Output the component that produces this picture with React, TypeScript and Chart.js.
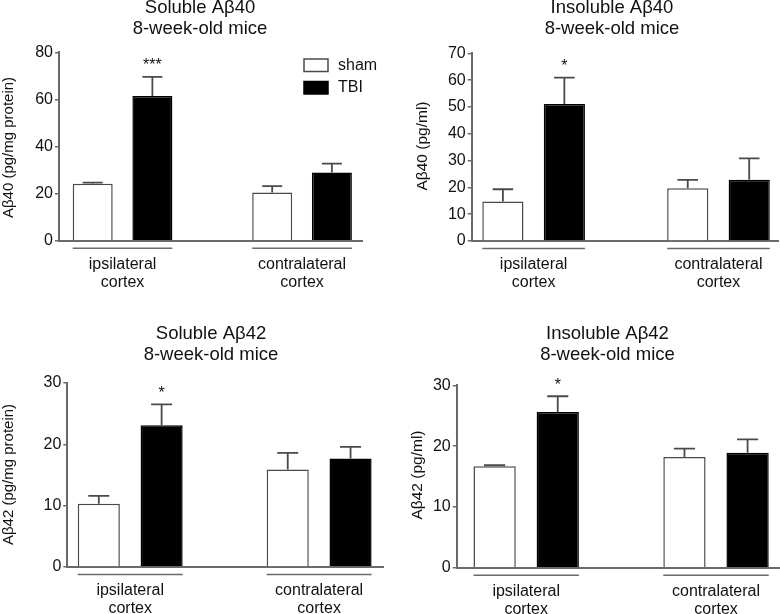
import React, { useEffect, useRef } from 'react';
import { Chart, registerables } from 'chart.js';

Chart.register(...registerables);

const FONT = '"Liberation Sans", Arial, Helvetica, sans-serif';

// ---- data ----
const regions = [['ipsilateral', 'cortex'], ['contralateral', 'cortex']];
const seriesNames = ['sham', 'TBI'];

// Soluble Aβ40 (pg/mg protein)
const sol40Sham = [24.2, 20.5];
const sol40ShamSem = [0.5, 2.7];
const sol40Tbi = [61.4, 29.0];
const sol40TbiSem = [8.2, 3.7];
const sol40Ticks = [0, 20, 40, 60, 80];

// Insoluble Aβ40 (pg/ml)
const insol40Sham = [14.7, 19.7];
const insol40ShamSem = [4.6, 3.1];
const insol40Tbi = [51.1, 22.8];
const insol40TbiSem = [9.8, 8.0];
const insol40Ticks = [0, 10, 20, 30, 40, 50, 60, 70];

// Soluble Aβ42 (pg/mg protein)
const sol42Sham = [10.3, 15.9];
const sol42ShamSem = [1.3, 2.7];
const sol42Tbi = [23.1, 17.7];
const sol42TbiSem = [3.4, 1.9];
const sol42Ticks = [0, 10, 20, 30];

// Insoluble Aβ42 (pg/ml)
const insol42Sham = [16.7, 18.2];
const insol42ShamSem = [0.15, 1.4];
const insol42Tbi = [25.6, 18.9];
const insol42TbiSem = [2.6, 2.2];
const insol42Ticks = [0, 10, 20, 30];

const AXIS = '#6a6a6a';
const EDGE = '#4a4a4a';
const TEXT = '#111111';

type Cfg = {
  px: number; py: number;
  area: { l: number; r: number; t: number; b: number };
  xMin: number; xMax: number;
  title: string[]; titleX: number; titleY: number[];
  yTitle: string; yTitleX: number; yTitleY: number; yTitleSize: number;
  ticks: number[];
  sham: number[]; shamErr: number[]; tbi: number[]; tbiErr: number[];
  star: string;
  legend?: { x: number; y: number };
};

const panels: Cfg[] = [
  {
    px: 0, py: 0,
    area: { l: 59, r: 362, t: 52.3, b: 240.7 },
    xMin: -0.354, xMax: 1.334,
    title: ['Soluble Aβ40', '8-week-old mice'], titleX: 200, titleY: [13.3, 34.3],
    yTitle: 'Aβ40 (pg/mg protein)', yTitleX: 9, yTitleY: 147.5, yTitleSize: 15,
    ticks: sol40Ticks,
    sham: sol40Sham, shamErr: sol40ShamSem, tbi: sol40Tbi, tbiErr: sol40TbiSem,
    star: '***',
    legend: { x: 304, y: 59 },
  },
  {
    px: 390, py: 0,
    area: { l: 81.7, r: 388, t: 53.3, b: 241 },
    xMin: -0.335, xMax: 1.322,
    title: ['Insoluble Aβ40', '8-week-old mice'], titleX: 222, titleY: [13.3, 34.3],
    yTitle: 'Aβ40 (pg/ml)', yTitleX: 33, yTitleY: 146, yTitleSize: 15.5,
    ticks: insol40Ticks,
    sham: insol40Sham, shamErr: insol40ShamSem, tbi: insol40Tbi, tbiErr: insol40TbiSem,
    star: '*',
  },
  {
    px: 0, py: 307,
    area: { l: 67.3, r: 383, t: 76, b: 260 },
    xMin: -0.333, xMax: 1.338,
    title: ['Soluble Aβ42', '8-week-old mice'], titleX: 211, titleY: [32, 53],
    yTitle: 'Aβ42 (pg/mg protein)', yTitleX: 9, yTitleY: 167.5, yTitleSize: 15,
    ticks: sol42Ticks,
    sham: sol42Sham, shamErr: sol42ShamSem, tbi: sol42Tbi, tbiErr: sol42TbiSem,
    star: '*',
  },
  {
    px: 390, py: 307,
    area: { l: 66.7, r: 390, t: 78.3, b: 260.7 },
    xMin: -0.366, xMax: 1.337,
    title: ['Insoluble Aβ42', '8-week-old mice'], titleX: 217.5, titleY: [32, 53],
    yTitle: 'Aβ42 (pg/ml)', yTitleX: 27.5, yTitleY: 168, yTitleSize: 15.5,
    ticks: insol42Ticks,
    sham: insol42Sham, shamErr: insol42ShamSem, tbi: insol42Tbi, tbiErr: insol42TbiSem,
    star: '*',
  },
];

const W = 390;
const H = 330;
const Y_AXIS_W = 40;
const X_AXIS_H = 60;

function Panel({ cfg }: { cfg: Cfg }) {
  const ref = useRef<HTMLCanvasElement | null>(null);

  useEffect(() => {
    const canvas = ref.current;
    if (!canvas) return;
    const a = cfg.area;
    const errs = [cfg.shamErr, cfg.tbiErr];

    const annot = {
      id: 'annot',
      afterDatasetsDraw(chart: any) {
        const ctx = chart.ctx;
        const ys = chart.scales.y;
        ctx.save();
        // error bars (upper only)
        chart.data.datasets.forEach((ds: any, di: number) => {
          const meta = chart.getDatasetMeta(di);
          meta.data.forEach((bar: any, i: number) => {
            const v = ds.data[i].y;
            const top = ys.getPixelForValue(v + errs[di][i]);
            const half = bar.width / 4;
            ctx.strokeStyle = EDGE;
            ctx.lineWidth = 1.8;
            ctx.beginPath();
            ctx.moveTo(bar.x, bar.y);
            ctx.lineTo(bar.x, top);
            ctx.moveTo(bar.x - half, top);
            ctx.lineTo(bar.x + half, top);
            ctx.stroke();
          });
        });
        // group underlines
        const m0 = chart.getDatasetMeta(0);
        const m1 = chart.getDatasetMeta(1);
        ctx.strokeStyle = AXIS;
        ctx.lineWidth = 1.5;
        for (let i = 0; i < regions.length; i++) {
          const b0 = m0.data[i];
          const b1 = m1.data[i];
          const x0 = b0.x - b0.width / 2;
          const x1 = b1.x + b1.width / 2;
          const y = chart.chartArea.bottom + 7.5;
          ctx.beginPath();
          ctx.moveTo(x0, y);
          ctx.lineTo(x1, y);
          ctx.stroke();
        }
        // significance star
        const sb = m1.data[0];
        const starTop = ys.getPixelForValue(cfg.tbi[0] + cfg.tbiErr[0]);
        ctx.fillStyle = TEXT;
        ctx.font = `16px ${FONT}`;
        ctx.textAlign = 'center';
        ctx.textBaseline = 'alphabetic';
        ctx.fillText(cfg.star, sb.x, starTop - 6.5);
        // titles
        ctx.font = `18.5px ${FONT}`;
        ctx.textBaseline = 'alphabetic';
        cfg.title.forEach((t, i) => ctx.fillText(t, cfg.titleX, cfg.titleY[i]));
        // y axis title
        ctx.save();
        ctx.translate(cfg.yTitleX, cfg.yTitleY);
        ctx.rotate(-Math.PI / 2);
        ctx.font = `${cfg.yTitleSize}px ${FONT}`;
        ctx.textBaseline = 'middle';
        ctx.fillText(cfg.yTitle, 0, 0);
        ctx.restore();
        // legend
        if (cfg.legend) {
          const lg = cfg.legend;
          chart.data.datasets.forEach((ds: any, di: number) => {
            const y = lg.y + di * 22.5;
            ctx.fillStyle = ds.backgroundColor;
            ctx.fillRect(lg.x, y, 24, 12.5);
            ctx.strokeStyle = ds.borderColor;
            ctx.lineWidth = 1.5;
            ctx.strokeRect(lg.x, y, 24, 12.5);
            ctx.fillStyle = TEXT;
            ctx.font = `16px ${FONT}`;
            ctx.textAlign = 'left';
            ctx.textBaseline = 'middle';
            ctx.fillText(ds.label, lg.x + 34, y + 6.5);
          });
        }
        ctx.restore();
      },
    };

    const chart = new Chart(canvas, {
      type: 'bar',
      data: {
        datasets: [
          {
            label: seriesNames[0],
            data: cfg.sham.map((v, i) => ({ x: i, y: v })),
            backgroundColor: '#ffffff',
            borderColor: EDGE,
            borderWidth: 1.5,
            categoryPercentage: 0.665,
            barPercentage: 0.67,
          },
          {
            label: seriesNames[1],
            data: cfg.tbi.map((v, i) => ({ x: i, y: v })),
            backgroundColor: '#000000',
            borderColor: '#000000',
            borderWidth: 1.5,
            categoryPercentage: 0.665,
            barPercentage: 0.67,
          },
        ] as any,
      },
      options: {
        animation: false,
        responsive: false,
        maintainAspectRatio: false,
        layout: {
          padding: {
            left: a.l - Y_AXIS_W,
            right: W - a.r,
            top: a.t,
            bottom: H - a.b - X_AXIS_H,
          },
        },
        plugins: {
          legend: { display: false },
          title: { display: false },
          tooltip: { enabled: false },
        },
        scales: {
          x: {
            type: 'linear',
            offset: false,
            min: cfg.xMin,
            max: cfg.xMax,
            afterBuildTicks: (s: any) => {
              s.ticks = regions.map((_, i) => ({ value: i }));
            },
            afterFit: (s: any) => {
              s.height = X_AXIS_H;
            },
            grid: { display: false, drawTicks: false, offset: false },
            border: { display: true, color: AXIS, width: 2 },
            ticks: {
              autoSkip: false,
              maxRotation: 0,
              padding: 15,
              color: TEXT,
              font: { family: FONT, size: 16, lineHeight: 18 / 16 },
              callback: (_v: any, i: number) => regions[i],
            },
          },
          y: {
            type: 'linear',
            min: cfg.ticks[0],
            max: cfg.ticks[cfg.ticks.length - 1],
            afterBuildTicks: (s: any) => {
              s.ticks = cfg.ticks.map((v) => ({ value: v }));
            },
            afterFit: (s: any) => {
              s.width = Y_AXIS_W;
            },
            grid: {
              drawOnChartArea: false,
              drawTicks: true,
              tickLength: 4,
              color: AXIS,
              lineWidth: 1.5,
            },
            border: { display: true, color: AXIS, width: 2 },
            ticks: {
              padding: 2,
              color: TEXT,
              font: { family: FONT, size: 16 },
            },
          },
        },
      } as any,
      plugins: [annot],
    });
    return () => chart.destroy();
  }, [cfg]);

  return (
    <canvas
      ref={ref}
      width={W}
      height={H}
      style={{ position: 'absolute', left: cfg.px, top: cfg.py, width: W, height: H }}
    />
  );
}

export default function App() {
  return (
    <div
      style={{
        position: 'absolute',
        left: 0,
        top: 0,
        width: 780,
        height: 614,
        overflow: 'hidden',
        background: '#fff',
      }}
    >
      {panels.map((p, i) => (
        <Panel key={i} cfg={p} />
      ))}
    </div>
  );
}
